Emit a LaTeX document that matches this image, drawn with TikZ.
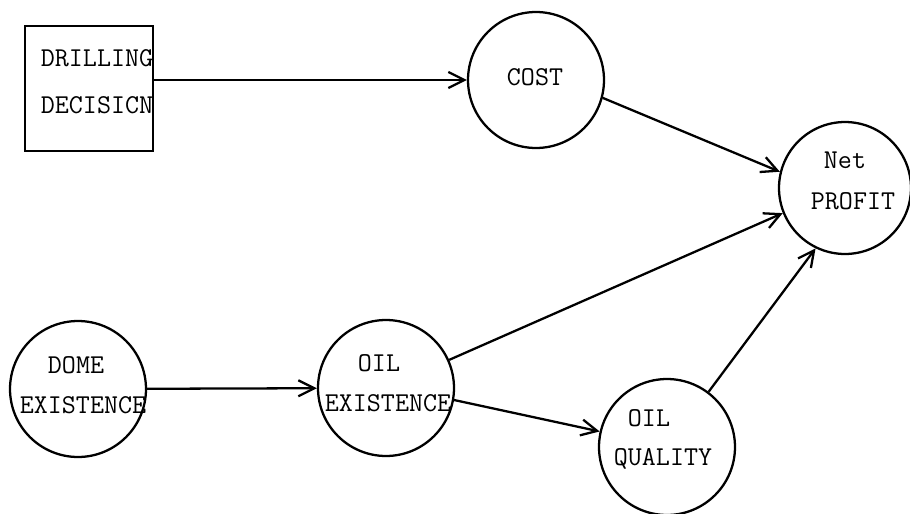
\documentclass[tikz,border=0pt]{standalone}
\usepackage{fontspec}
\usetikzlibrary{arrows.meta}
\tikzset{
  lbl/.style={font=\ttfamily\fontsize{15.5}{18}\selectfont, inner sep=0pt, anchor=center},
  chance/.style={circle, draw, line width=1.3pt, minimum size=2.72cm, inner sep=0pt},
  decisionbox/.style={rectangle, draw, line width=1.3pt, minimum width=2.56cm, minimum height=2.5cm, inner sep=0pt},
  arc/.style={line width=1.3pt, -{Straight Barb[length=3.2mm,width=3.2mm,line width=1.3pt]}}
}
\begin{document}
\begin{tikzpicture}[x=0.02cm, y=-0.02cm]
\useasboundingbox (0,0) rectangle (910,514);
% nodes
\node[decisionbox] (drill) at (89,88.5) {};
\node[chance] (cost) at (536,80) {};
\node[chance, minimum size=2.64cm] (net) at (845,188) {};
\node[chance] (dome) at (78,389) {};
\node[chance] (oilex) at (386,388) {};
\node[chance] (oilq) at (667,447) {};
% texts
\node[lbl] (t1) at (97,58) {DRILLING};
\node[lbl] (t2) at (97,105) {DECISICN};
\node[lbl] (t3) at (535,77) {COST};
\node[lbl] (t4) at (845,160) {Net};
\node[lbl] (t5) at (853,201) {PROFIT};
\node[lbl] (t6) at (76,365) {DOME};
\node[lbl] (t7) at (83,405) {EXISTENCE};
\node[lbl] (t8) at (379,363) {OIL};
\node[lbl] (t9) at (388,403) {EXISTENCE};
\node[lbl] (t10) at (649,418) {OIL};
\node[lbl] (t11) at (663,459) {QUALITY};
% connectors
\draw[arc] (drill.east |- cost.west) -- (cost.west);
\draw[arc] (cost.-15) -- (net.166);
\draw[arc] (dome) -- (oilex);
\draw[arc] (oilex.24) -- (net.-158);
\draw[arc] (oilex.-10) -- (oilq.167);
\draw[arc] (oilq.53) -- (net.-116);
\end{tikzpicture}
\end{document}
